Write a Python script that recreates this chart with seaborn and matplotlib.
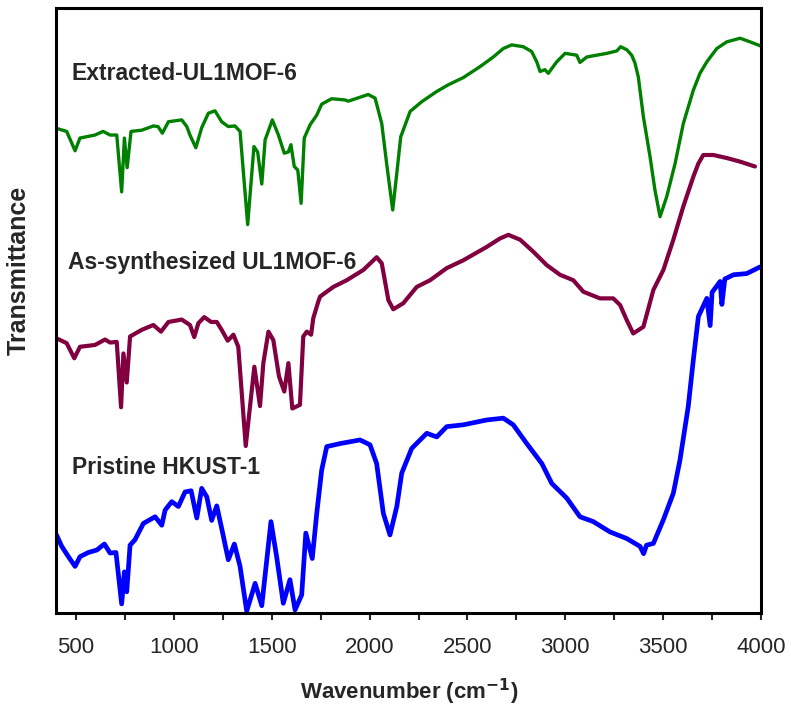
import numpy as np
import pandas as pd
import matplotlib
matplotlib.use("Agg")
import matplotlib.pyplot as plt
from matplotlib.ticker import MultipleLocator
import seaborn as sns

# FTIR spectra (wavenumber in cm-1, transmittance in arbitrary offset units)
extracted_wn = [400, 452, 495, 520, 597, 638, 674, 708, 733, 747, 761, 781, 836, 895, 919, 941,
                972, 1040, 1066, 1082, 1112, 1142, 1176, 1210, 1244, 1278, 1312, 1338, 1377, 1409,
                1428, 1449, 1466, 1503, 1534, 1564, 1585, 1598, 1615, 1633, 1650, 1666, 1696, 1730,
                1755, 1806, 1874, 1891, 1993, 2028, 2062, 2087, 2118, 2139, 2159, 2207, 2266, 2343,
                2402, 2479, 2564, 2632, 2683, 2726, 2785, 2828, 2854, 2871, 2896, 2913, 2956, 2999,
                3058, 3075, 3110, 3143, 3212, 3263, 3283, 3314, 3339, 3356, 3373, 3399, 3433, 3458,
                3484, 3518, 3561, 3603, 3654, 3688, 3723, 3774, 3825, 3893, 3944, 4000]
extracted_t = [80.1, 79.6, 76.4, 78.5, 79.0, 79.6, 79.0, 79.0, 69.6, 78.5, 73.6, 79.6, 79.8, 80.5,
               80.4, 79.3, 81.2, 81.5, 80.4, 79.0, 76.9, 80.2, 82.6, 83.0, 81.2, 80.4, 80.5, 79.6,
               64.2, 77.1, 76.2, 70.9, 78.2, 81.5, 79.0, 76.0, 76.2, 77.4, 73.8, 73.2, 67.7, 78.5,
               80.7, 82.3, 84.1, 85.0, 84.8, 84.6, 85.7, 85.1, 80.9, 74.3, 66.6, 72.7, 78.7, 82.9,
               84.5, 86.2, 87.3, 88.5, 90.3, 91.9, 93.3, 93.9, 93.6, 92.8, 91.1, 89.5, 89.8, 89.2,
               91.1, 92.5, 92.2, 91.0, 91.9, 92.1, 92.5, 92.9, 93.6, 93.1, 92.2, 90.9, 88.6, 82.0,
               75.4, 69.9, 65.5, 68.8, 74.3, 80.9, 86.4, 89.2, 91.1, 93.3, 94.4, 95.0, 94.4, 93.7]

synth_wn = [400, 452, 491, 520, 597, 648, 674, 708, 730, 742, 759, 776, 836, 895, 934, 972,
            1040, 1082, 1104, 1125, 1155, 1190, 1219, 1244, 1275, 1304, 1329, 1367, 1411, 1440,
            1457, 1483, 1508, 1537, 1564, 1585, 1605, 1644, 1661, 1679, 1701, 1712, 1738, 1747,
            1815, 1883, 1968, 2036, 2062, 2096, 2121, 2172, 2241, 2309, 2394, 2479, 2598, 2666,
            2709, 2769, 2837, 2905, 2973, 3041, 3092, 3177, 3245, 3280, 3314, 3347, 3399, 3450,
            3501, 3552, 3603, 3654, 3680, 3705, 3756, 3825, 3893, 3969]
synth_t = [45.4, 44.6, 42.1, 44.0, 44.3, 45.2, 44.7, 44.8, 34.0, 42.9, 38.1, 45.7, 46.8, 47.6,
           46.5, 48.1, 48.5, 47.6, 45.6, 47.9, 48.9, 48.1, 48.1, 46.8, 45.0, 46.0, 44.0, 27.6,
           40.7, 34.2, 41.3, 46.5, 45.1, 39.1, 36.6, 41.3, 33.8, 34.4, 45.7, 46.5, 46.0, 48.7,
           51.5, 52.3, 53.9, 55.0, 56.7, 58.8, 57.8, 51.7, 50.2, 51.2, 53.9, 55.0, 57.0, 58.3,
           60.5, 61.9, 62.5, 61.7, 59.7, 57.5, 55.9, 55.0, 53.1, 52.0, 52.0, 50.9, 48.4, 46.2,
           47.3, 53.4, 56.7, 61.7, 67.2, 72.1, 74.3, 75.7, 75.7, 75.2, 74.6, 73.8]

pristine_wn = [400, 427, 461, 495, 520, 563, 606, 645, 674, 704, 733, 747, 759, 776, 801, 844,
               904, 938, 955, 989, 1023, 1057, 1088, 1117, 1142, 1168, 1193, 1219, 1244, 1278,
               1309, 1338, 1372, 1415, 1449, 1496, 1525, 1559, 1593, 1619, 1653, 1674, 1707, 1730,
               1755, 1781, 1849, 1951, 2002, 2036, 2070, 2104, 2139, 2164, 2215, 2292, 2343, 2394,
               2479, 2598, 2683, 2734, 2803, 2880, 2931, 3007, 3075, 3143, 3228, 3314, 3382, 3400,
               3415, 3450, 3501, 3552, 3586, 3628, 3654, 3680, 3723, 3740, 3750, 3791, 3800, 3815,
               3859, 3927, 3995]
pristine_t = [12.9, 11.0, 9.3, 7.7, 9.3, 10.0, 10.4, 11.4, 9.9, 10.0, 1.5, 6.8, 3.5, 11.2, 12.1,
              14.8, 15.9, 14.5, 17.0, 18.4, 17.6, 20.0, 20.2, 15.7, 20.6, 19.2, 15.3, 17.7, 14.0,
              8.8, 11.4, 7.7, 0.3, 4.9, 1.2, 15.1, 9.3, 1.6, 5.5, 0.5, 3.0, 13.2, 9.0, 16.5, 23.6,
              27.5, 28.0, 28.6, 27.8, 24.7, 16.5, 12.9, 17.6, 23.1, 27.2, 29.7, 29.1, 30.8, 31.1,
              31.9, 32.2, 31.1, 28.0, 24.7, 21.4, 19.0, 15.9, 15.1, 13.4, 12.3, 11.0, 9.8, 11.2,
              11.5, 15.4, 19.8, 25.3, 34.1, 41.8, 49.0, 52.0, 47.5, 53.0, 54.8, 51.0, 55.2, 55.9,
              56.1, 57.2]

labels = ["Extracted-UL1MOF-6", "As-synthesized UL1MOF-6", "Pristine HKUST-1"]
colors = ["#008000", "#800040", "#0000FF"]
widths = [2.4, 3.0, 3.4]
label_pos = [(478, 89.1), (457, 58.0), (478, 24.1)]

sns.set_style("ticks")
plt.rcParams["font.family"] = ["Liberation Sans", "DejaVu Sans"]

fig = plt.figure(figsize=(7.91, 7.13), dpi=100)
ax = fig.add_axes([0.0714, 0.1403, 0.8907, 0.8485])

series = [(extracted_wn, extracted_t), (synth_wn, synth_t), (pristine_wn, pristine_t)]
for (wn, t), name, c, lw in zip(series, labels, colors, widths):
    df = pd.DataFrame({"wn": wn, "T": t})
    sns.lineplot(data=df, x="wn", y="T", color=c, linewidth=lw, ax=ax,
                 sort=False, estimator=None)

for name, (x, y) in zip(labels, label_pos):
    ax.text(x, y, name, fontsize=16.5, fontweight="bold", va="center", ha="left")

ax.set_xlim(400, 4000)
ax.set_ylim(0, 100)
ax.xaxis.set_major_locator(MultipleLocator(500))
ax.xaxis.set_minor_locator(MultipleLocator(250))
ax.set_yticks([])
ax.tick_params(axis="x", which="both", direction="out", length=5, width=1.5,
               labelsize=16, pad=12, top=False)
for s in ax.spines.values():
    s.set_visible(True)
    s.set_linewidth(2.2)
    s.set_color("black")

ax.set_xlabel("Wavenumber (cm$^{\\mathbf{-1}}$)", fontsize=16, fontweight="bold", labelpad=14)
ax.set_ylabel("Transmittance", fontsize=18, fontweight="bold")
ax.yaxis.set_label_coords(-0.036, 0.567)

fig.savefig("out.png", dpi=100)
